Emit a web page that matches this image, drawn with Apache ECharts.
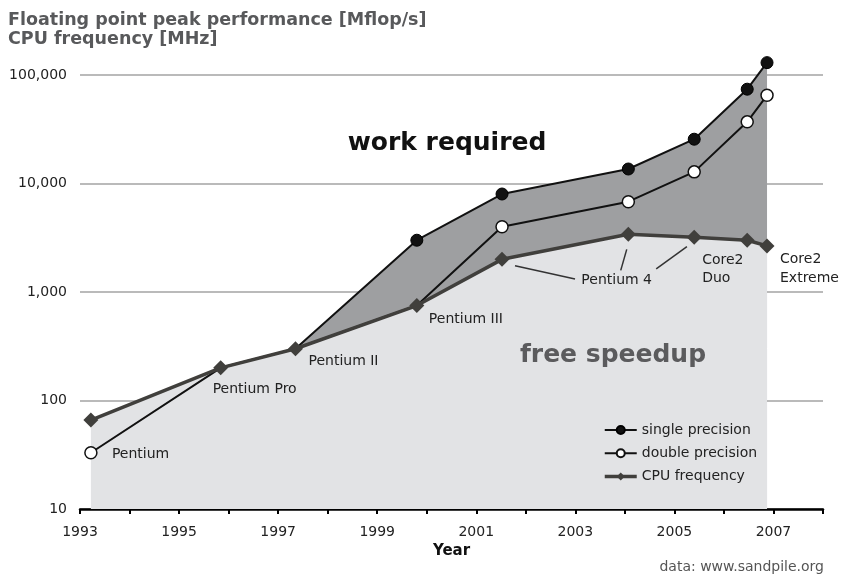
<!DOCTYPE html>
<html><head><meta charset="utf-8">
<script src="https://cdn.jsdelivr.net/npm/echarts@6/dist/echarts.min.js"></script>
<style>html,body{margin:0;padding:0;background:#fff}#c{width:842px;height:575px}</style>
</head><body><div id="c"></div>
<script>
// ---- data ----
const years = [1993.22, 1995.84, 1997.35, 1999.8, 2001.52, 2004.07, 2005.4, 2006.47, 2006.87];
const singlePrecision = [null, null, 300, 3000, 8000, 13600, 25600, 74000, 130000];
const doublePrecision = [33, 200, 300, 750, 4000, 6800, 12800, 37000, 65000];
const cpuFrequency = [66, 200, 300, 750, 2000, 3400, 3200, 3000, 2660];
const cpuNames = ['Pentium', 'Pentium Pro', 'Pentium II', 'Pentium III', 'Pentium 4', 'Core2\nDuo', 'Core2\nExtreme'];
const seriesNames = ['single precision', 'double precision', 'CPU frequency'];

// ---- styling / layout config ----
// points where the flop markers sit under the frequency diamonds
const hiddenSingleMarkers = [2];
const hiddenDoubleMarkers = [1, 2, 3];
const annoLayout = [
  {name: 0, idx: 0, src: 'double', dx: 21, dy: 2},
  {name: 1, idx: 1, src: 'freq', dx: -8, dy: 22},
  {name: 2, idx: 2, src: 'freq', dx: 13, dy: 13},
  {name: 3, idx: 3, src: 'freq', dx: 12, dy: 14},
  {name: 4, idx: 5, src: 'freq', dx: -47, dy: 46},
  {name: 5, idx: 7, src: 'freq', dx: -45, dy: 29},
  {name: 6, idx: 8, src: 'freq', dx: 13, dy: 23}
];
const leaderLayout = [
  {idx: 4, x1: 13, y1: 6.4, x2: 73, y2: 19.7},
  {idx: 5, x1: -1.6, y1: 15, x2: -7.6, y2: 36},
  {idx: 6, x1: -7.3, y1: 9.4, x2: -38, y2: 31.7}
];

function pairs(vals, hidden) {
  const out = [];
  vals.forEach((v, i) => {
    if (v == null) return;
    if (hidden && hidden.indexOf(i) >= 0) out.push({value: [years[i], v], symbol: 'none'});
    else out.push([years[i], v]);
  });
  return out;
}

const FONT = 'DejaVu Sans';
const chart = echarts.init(document.getElementById('c'), null, {renderer: 'canvas'});

const option = {
  animation: false,
  backgroundColor: '#fff',
  textStyle: {fontFamily: FONT},
  title: {
    text: 'Floating point peak performance [Mflop/s]\nCPU frequency [MHz]',
    left: 8, top: 11, padding: 0,
    textStyle: {fontFamily: FONT, fontSize: 17.5, fontWeight: 'bold', color: '#58595b', lineHeight: 19}
  },
  grid: {left: 80, right: 19, top: 75, bottom: 66},
  legend: {
    data: [
      {name: seriesNames[0]},
      {name: seriesNames[1]},
      {name: seriesNames[2], lineStyle: {width: 3.5, color: '#403f3c'}}
    ],
    orient: 'vertical',
    left: 603, top: 423, padding: 0,
    itemWidth: 32, itemHeight: 10, itemGap: 9.3,
    textStyle: {fontFamily: FONT, fontSize: 14, color: '#222', lineHeight: 14}
  },
  xAxis: {
    type: 'value', min: 1993, max: 2008, interval: 1,
    name: 'Year', nameLocation: 'middle', nameGap: 35,
    nameTextStyle: {fontFamily: FONT, fontSize: 15, fontWeight: 'bold', color: '#111'},
    axisLine: {lineStyle: {color: '#000', width: 2.5}},
    axisTick: {lineStyle: {color: '#000', width: 2}, length: 5},
    axisLabel: {
      margin: 16, fontFamily: FONT, fontSize: 14, color: '#222',
      formatter: v => (Math.round(v) % 2 === 1 ? String(Math.round(v)) : '')
    },
    splitLine: {show: false}
  },
  yAxis: {
    type: 'log', logBase: 10, min: 10, max: 100000,
    axisLine: {show: false}, axisTick: {show: false},
    axisLabel: {
      margin: 13, fontFamily: FONT, fontSize: 14, color: '#222',
      formatter: v => Math.round(v).toLocaleString('en-US')
    },
    splitLine: {lineStyle: {color: '#a3a3a3', width: 1.5}}
  },
  series: [
    {
      name: '_workArea', type: 'line', data: pairs(singlePrecision), symbol: 'none',
      lineStyle: {width: 0, opacity: 0}, areaStyle: {color: '#9e9fa1', opacity: 1, origin: 'start'},
      z: 1, silent: true, clip: false
    },
    {
      name: '_freeArea', type: 'line', data: pairs(cpuFrequency), symbol: 'none',
      lineStyle: {width: 0, opacity: 0}, areaStyle: {color: '#e2e3e5', opacity: 1, origin: 'start'},
      z: 2, silent: true, clip: false
    },
    {
      name: seriesNames[0], type: 'line', data: pairs(singlePrecision, hiddenSingleMarkers),
      symbol: 'circle', symbolSize: 12, showAllSymbol: true,
      lineStyle: {color: '#111', width: 2},
      itemStyle: {color: '#111', borderColor: '#000', borderWidth: 1},
      z: 3, clip: false
    },
    {
      name: seriesNames[1], type: 'line', data: pairs(doublePrecision, hiddenDoubleMarkers),
      symbol: 'circle', symbolSize: 12, showAllSymbol: true,
      lineStyle: {color: '#111', width: 2},
      itemStyle: {color: '#fff', borderColor: '#111', borderWidth: 1.5},
      z: 4, clip: false
    },
    {
      name: seriesNames[2], type: 'line', data: pairs(cpuFrequency),
      symbol: 'diamond', symbolSize: 15, showAllSymbol: true,
      lineStyle: {color: '#403f3c', width: 3.5},
      itemStyle: {color: '#403f3c'},
      z: 5, clip: false
    }
  ]
};
chart.setOption(option);

// annotations placed relative to data points
const srcMap = {double: doublePrecision, freq: cpuFrequency, single: singlePrecision};
const graphics = [];
annoLayout.forEach(a => {
  const p = chart.convertToPixel({gridIndex: 0}, [years[a.idx], srcMap[a.src][a.idx]]);
  graphics.push({
    type: 'text', x: p[0] + a.dx, y: p[1] + a.dy, z: 10,
    style: {text: cpuNames[a.name], fill: '#222', font: '14px "DejaVu Sans"',
      textAlign: 'left', textVerticalAlign: 'middle', lineHeight: 18.7}
  });
});
leaderLayout.forEach(l => {
  const p = chart.convertToPixel({gridIndex: 0}, [years[l.idx], cpuFrequency[l.idx]]);
  graphics.push({
    type: 'line', z: 10,
    shape: {x1: p[0] + l.x1, y1: p[1] + l.y1, x2: p[0] + l.x2, y2: p[1] + l.y2},
    style: {stroke: '#333', lineWidth: 1.5}
  });
});
graphics.push({
  type: 'text', x: 447, y: 143, z: 10,
  style: {text: 'work required', fill: '#111', font: 'bold 25px "DejaVu Sans"', textAlign: 'center', textVerticalAlign: 'middle'}
});
graphics.push({
  type: 'text', x: 613, y: 355, z: 10,
  style: {text: 'free speedup', fill: '#5b5b5d', font: 'bold 25px "DejaVu Sans"', textAlign: 'center', textVerticalAlign: 'middle'}
});
graphics.push({
  type: 'text', x: 824, y: 567, z: 10,
  style: {text: 'data: www.sandpile.org', fill: '#555', font: '14px "DejaVu Sans"', textAlign: 'right', textVerticalAlign: 'middle'}
});
chart.setOption({graphic: graphics});
</script>
</body></html>
